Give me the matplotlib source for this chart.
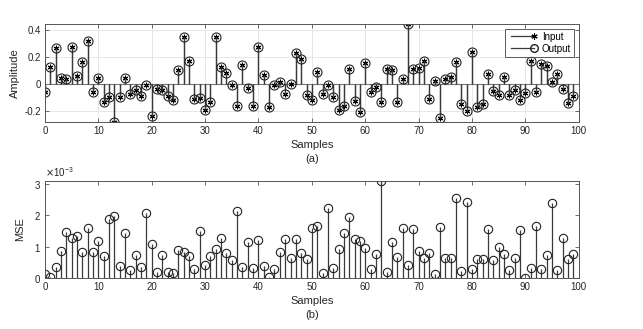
import numpy as np
import matplotlib
matplotlib.use('Agg')
import matplotlib.pyplot as plt
from matplotlib.lines import Line2D
from matplotlib.legend_handler import HandlerLine2D

plt.rcParams['font.family'] = ['Liberation Sans', 'DejaVu Sans']

samples = np.arange(100)

input_sig = [
    -0.064, 0.128, 0.264, 0.044, 0.035, 0.277, 0.059, 0.165, 0.318, -0.059,
    0.042, -0.133, -0.101, -0.284, -0.101, 0.044, -0.079, -0.044, -0.094, -0.010,
    -0.237, -0.040, -0.049, -0.089, -0.119, 0.099, 0.351, 0.168, -0.114, -0.106,
    -0.195, -0.136, 0.351, 0.123, 0.081, -0.010, -0.163, 0.143, -0.030, -0.165,
    0.272, 0.062, -0.170, -0.012, 0.015, -0.079, 0.000, 0.232, 0.183, -0.081,
    -0.123, 0.091, -0.079, -0.012, -0.096, -0.195, -0.165, 0.111, -0.126, -0.210,
    0.158, -0.064, -0.025, -0.136, 0.111, 0.099, -0.138, 0.037, 0.442, 0.111,
    0.114, 0.168, -0.114, 0.017, -0.257, 0.032, 0.049, 0.163, -0.151, -0.202,
    0.237, -0.173, -0.151, 0.072, -0.057, -0.084, 0.049, -0.081, -0.047, -0.123,
    -0.067, 0.170, -0.064, 0.151, 0.133, 0.012, 0.072, -0.040, -0.141, -0.094,
]
output_sig = list(input_sig)

# MSE values in units of 1e-3
mse_e3 = [
    0.12, 0.02, 0.34, 0.87, 1.45, 1.28, 1.34, 0.84, 1.59, 0.82,
    1.19, 0.69, 1.89, 1.96, 0.37, 1.42, 0.27, 0.72, 0.34, 2.07,
    1.08, 0.19, 0.72, 0.20, 0.15, 0.89, 0.84, 0.71, 0.28, 1.51,
    0.40, 0.71, 0.93, 1.26, 0.80, 0.56, 2.12, 0.35, 1.16, 0.33,
    1.21, 0.37, 0.02, 0.28, 0.84, 1.23, 0.63, 1.23, 0.81, 0.62,
    1.58, 1.64, 0.16, 2.22, 0.33, 0.93, 1.44, 1.93, 1.25, 1.19,
    0.96, 0.28, 0.75, 3.08, 0.20, 1.14, 0.66, 1.60, 0.42, 1.57,
    0.87, 0.64, 0.80, 0.13, 1.63, 0.65, 0.64, 2.54, 0.23, 2.42,
    0.29, 0.60, 0.62, 1.55, 0.58, 1.00, 0.77, 0.26, 0.65, 1.52,
    0.01, 0.32, 1.64, 0.28, 0.73, 2.40, 0.24, 1.26, 0.60, 0.76,
]
mse = np.array(mse_e3) * 1e-3

stem_col = '#3a3a3a'
txt_col = '#262626'
axis_col = '#555555'
asterisk = (6, 2, 0)


class RightMarker(HandlerLine2D):
    # line with the marker only at its right end (MATLAB-like legend)
    def create_artists(self, *args, **kwargs):
        arts = super().create_artists(*args, **kwargs)
        for a in arts:
            a.set_markevery([1])
        return arts


fig = plt.figure(figsize=(6.43, 3.29), dpi=100)
ax1 = fig.add_axes([0.070, 0.629, 0.830, 0.298])
ax2 = fig.add_axes([0.070, 0.155, 0.830, 0.295])


def style_axis(ax):
    ax.tick_params(direction='in', length=3, width=0.6, colors=axis_col,
                   labelcolor=txt_col, labelsize=7, top=True, right=True, pad=3)
    for s in ax.spines.values():
        s.set_color(axis_col)
        s.set_linewidth(0.7)


# (a) input / output
m, s, b = ax1.stem(samples, input_sig, basefmt=' ')
s.set_color(stem_col)
s.set_linewidth(0.9)
m.set_marker(asterisk)
m.set_markersize(4)
m.set_color('black')
m.set_markeredgewidth(0.8)

m2, s2, b2 = ax1.stem(samples, output_sig, basefmt=' ')
s2.set_color(stem_col)
s2.set_linewidth(0.9)
m2.set_marker('o')
m2.set_markersize(6.5)
m2.set_markerfacecolor('none')
m2.set_markeredgecolor('#222222')
m2.set_markeredgewidth(0.8)
ax1.axhline(0, color='#777777', lw=0.8, zorder=1)

ax1.set_xlim(0, 100)
ax1.set_ylim(-0.285, 0.445)
ax1.set_xticks(np.arange(0, 101, 10))
ax1.set_yticks([-0.2, 0, 0.2, 0.4])
ax1.set_yticklabels(['-0.2', '0', '0.2', '0.4'])
ax1.grid(True, color='#e3e3e3', lw=0.6)
ax1.set_axisbelow(True)
style_axis(ax1)
ax1.set_ylabel('Amplitude', fontsize=8, color=txt_col, labelpad=3)
ax1.set_xlabel('Samples\n(a)', fontsize=8, color=txt_col, labelpad=3, linespacing=1.5)

h_in = Line2D([0], [0], color=stem_col, lw=0.9, marker=asterisk, markersize=4.5,
              markeredgecolor='black', markeredgewidth=0.8)
h_out = Line2D([0], [0], color=stem_col, lw=0.9, marker='o', markersize=5.5,
               markerfacecolor='none', markeredgecolor='#222222')
leg = ax1.legend([h_in, h_out], ['Input', 'Output'], loc='upper right',
                 handler_map={h_in: RightMarker(), h_out: RightMarker()},
                 numpoints=2, fontsize=7, frameon=True, fancybox=False,
                 edgecolor='#333333', handlelength=3.0, handletextpad=0.5,
                 borderpad=0.3, labelspacing=0.2, borderaxespad=0.5)
leg.get_frame().set_linewidth(0.7)

# (b) MSE
m3, s3, b3 = ax2.stem(samples, mse, basefmt=' ')
s3.set_color(stem_col)
s3.set_linewidth(0.9)
m3.set_marker('o')
m3.set_markersize(6)
m3.set_markerfacecolor('none')
m3.set_markeredgecolor('#222222')
m3.set_markeredgewidth(0.8)

ax2.set_xlim(0, 100)
ax2.set_ylim(0, 3.09e-3)
ax2.set_xticks(np.arange(0, 101, 10))
ax2.set_yticks([0, 1e-3, 2e-3, 3e-3])
ax2.ticklabel_format(style='sci', axis='y', scilimits=(0, 0), useMathText=True)
ax2.yaxis.get_offset_text().set_fontsize(7)
ax2.yaxis.get_offset_text().set_color(txt_col)
style_axis(ax2)
ax2.set_ylabel('MSE', fontsize=8, color=txt_col, labelpad=6)
ax2.set_xlabel('Samples\n(b)', fontsize=8, color=txt_col, labelpad=3, linespacing=1.5)

fig.savefig('out.png', dpi=100, facecolor='white')
